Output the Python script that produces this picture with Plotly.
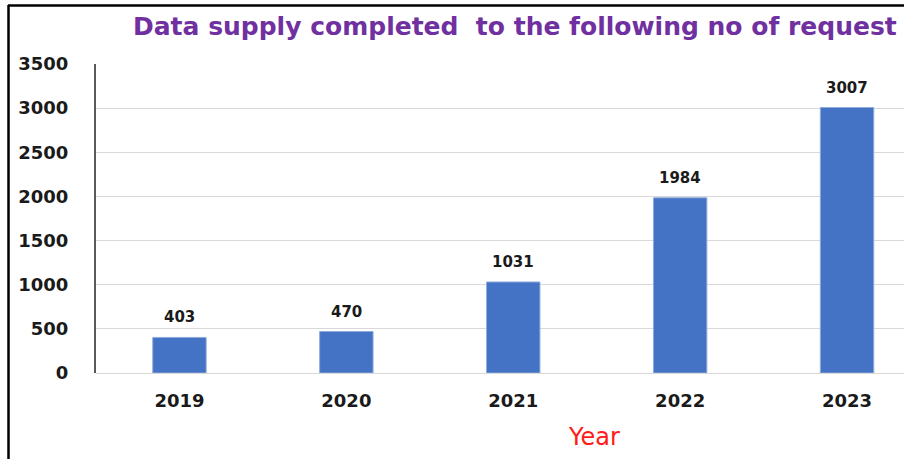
import plotly.graph_objects as go

# Completed data-supply requests per year
years = ["2019", "2020", "2021", "2022", "2023"]
requests = [403, 470, 1031, 1984, 3007]
y_ticks = [0, 500, 1000, 1500, 2000, 2500, 3000, 3500]

W, H = 904, 459
L, R, T, B = 96, 0, 64, 86          # plot-area margins in px
PW, PH = W - L - R, H - T - B


def px_x(x):
    return (x - L) / PW


def px_y(y):
    return (H - B - y) / PH


BAR = "#4472C4"
num_font = dict(family="DejaVu Sans", size=18, color="#1a1a1a")

fig = go.Figure(
    go.Bar(
        x=years,
        y=requests,
        marker=dict(color=BAR, line=dict(color="#8FAADC", width=1)),
        width=0.32,
        hoverinfo="x+y",
    )
)

# value labels above each bar (category axis: positions by category index)
value_labels = [
    dict(
        x=i, y=v, xref="x", yref="y",
        text=f"<b>{v}</b>",
        showarrow=False,
        xanchor="center", yanchor="bottom",
        yshift=9,
        font=dict(family="DejaVu Sans", size=15, color="#1a1a1a"),
    )
    for i, v in enumerate(requests)
]

# category spacing ~167 px, the right part of the last slot runs past the edge
slot = 166.9
fig.update_xaxes(
    type="category",
    range=[-0.5, -0.5 + PW / slot],
    tickvals=years,
    ticktext=[f"<b>{y}</b>" for y in years],
    tickfont=num_font,
    showline=False,
    showgrid=False,
    ticks="",
    ticklabelstandoff=15,
)
fig.update_yaxes(
    range=[0, 3500],
    tickvals=y_ticks,
    ticktext=[f"<b>{v}</b>" for v in y_ticks],
    tickfont=num_font,
    showgrid=True,
    gridcolor="#D9D9D9",
    gridwidth=1,
    zeroline=True,
    zerolinecolor="#D9D9D9",
    zerolinewidth=1,
    showline=True,
    linecolor="#595959",
    linewidth=2,
    ticks="",
    ticklabelstandoff=22,
)

fig.update_layout(
    width=W,
    height=H,
    margin=dict(l=L, r=R, t=T, b=B, pad=0),
    paper_bgcolor="white",
    plot_bgcolor="white",
    showlegend=False,
    annotations=value_labels + [
        dict(
            text="<b>Data supply completed  to the following no of request</b>",
            xref="paper", yref="paper",
            x=px_x(515), y=px_y(27),
            xanchor="center", yanchor="middle",
            showarrow=False,
            font=dict(family="DejaVu Sans", size=25, color="#7030A0"),
        ),
        dict(
            text="Year",
            xref="paper", yref="paper",
            x=px_x(594), y=px_y(437),
            xanchor="center", yanchor="middle",
            showarrow=False,
            font=dict(family="DejaVu Sans", size=24, color="#FF1A1A"),
        ),
    ],
    shapes=[
        # outer frame: top and left edges
        dict(type="line", xref="paper", yref="paper",
             x0=px_x(8), x1=px_x(W), y0=px_y(5.5), y1=px_y(5.5),
             line=dict(color="black", width=2.5)),
        dict(type="line", xref="paper", yref="paper",
             x0=px_x(8.5), x1=px_x(8.5), y0=px_y(5), y1=px_y(H),
             line=dict(color="black", width=2.5)),
    ],
)

fig.write_html("out.html")
